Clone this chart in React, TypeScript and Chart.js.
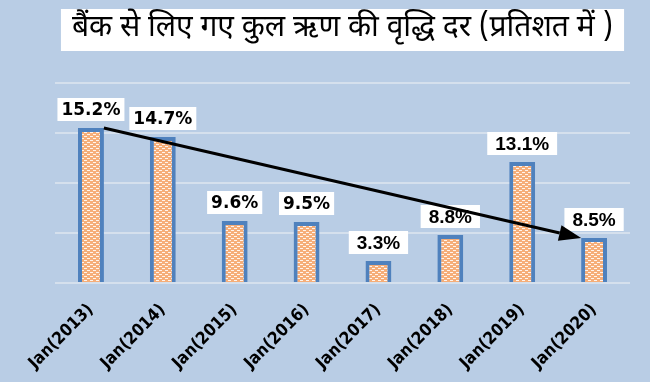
import React, { useEffect, useRef } from "react";
import { Chart, registerables } from "chart.js";

Chart.register(...registerables);

const titleText = "बैंक से लिए गए कुल ऋण की वृद्धि दर (प्रतिशत में )";
const categories = [
  "Jan(2013)", "Jan(2014)", "Jan(2015)", "Jan(2016)",
  "Jan(2017)", "Jan(2018)", "Jan(2019)", "Jan(2020)",
];
// bar heights as read against the gridlines (axis 0..20, gridline every 5)
const barHeights = [15.5, 14.6, 6.2, 6.1, 2.2, 4.8, 12.1, 4.5];
// value labels as printed on the chart
const valueLabels = ["15.2%", "14.7%", "9.6%", "9.5%", "3.3%", "8.8%", "13.1%", "8.5%"];
const yMin = 0;
const yMax = 20;
const yStep = 5;

const BG = "#b9cde5";
const TITLE_FONT = '"Noto Sans Devanagari", "Lohit Devanagari", "FreeSans", "Noto Sans", sans-serif';

function makePattern(): CanvasPattern | string {
  const c = document.createElement("canvas");
  c.width = 6;
  c.height = 4;
  const g = c.getContext("2d");
  if (!g) return "#f7b27e";
  g.fillStyle = "#f6ae79";
  g.fillRect(0, 0, 6, 4);
  g.fillStyle = "#fff4ec";
  g.fillRect(0, 0, 3, 1);
  g.fillRect(3, 2, 3, 1);
  const p = g.createPattern(c, "repeat");
  return p || "#f7b27e";
}

const decorPlugin = {
  id: "decor",
  beforeDraw(chart: any) {
    const { ctx, chartArea } = chart;
    ctx.save();
    ctx.fillStyle = BG;
    ctx.fillRect(0, 0, chart.width, chart.height);
    // white box behind title
    ctx.font = `30px ${TITLE_FONT}`;
    const tw = ctx.measureText(titleText).width;
    const cx = (chartArea.left + chartArea.right) / 2;
    const bw = tw + 22;
    ctx.fillStyle = "#ffffff";
    ctx.fillRect(cx - bw / 2, 9, bw, 42);
    ctx.restore();
  },
  afterDatasetsDraw(chart: any) {
    const { ctx } = chart;
    const meta = chart.getDatasetMeta(0);
    const els = meta.data;
    ctx.save();
    els.forEach((el: any, i: number) => {
      const txt = valueLabels[i];
      const font = i < 4 ? 'bold 17px "DejaVu Sans"' : 'bold 19px "Liberation Sans"';
      ctx.font = font;
      const w = ctx.measureText(txt).width;
      const pad = i < 4 ? 4 : 8;
      const bh = 23;
      const bw = w + pad * 2;
      const bottom = el.y - 7;
      ctx.fillStyle = "#ffffff";
      ctx.fillRect(el.x - bw / 2, bottom - bh, bw, bh);
      ctx.fillStyle = "#000000";
      ctx.textAlign = "center";
      ctx.textBaseline = "middle";
      ctx.fillText(txt, el.x, bottom - bh / 2 + 1);
    });
    // trend arrow from first bar to last bar
    const a = els[0];
    const b = els[els.length - 1];
    const x1 = a.x + a.width / 2;
    const y1 = a.y;
    const x2 = b.x - b.width / 2;
    const y2 = b.y;
    const ang = Math.atan2(y2 - y1, x2 - x1);
    const headLen = 22;
    const headHalf = 8;
    const bx = x2 - headLen * Math.cos(ang);
    const by = y2 - headLen * Math.sin(ang);
    ctx.strokeStyle = "#000000";
    ctx.lineWidth = 3;
    ctx.beginPath();
    ctx.moveTo(x1, y1);
    ctx.lineTo(bx, by);
    ctx.stroke();
    ctx.fillStyle = "#000000";
    ctx.beginPath();
    ctx.moveTo(x2, y2);
    ctx.lineTo(bx + headHalf * Math.sin(ang), by - headHalf * Math.cos(ang));
    ctx.lineTo(bx - headHalf * Math.sin(ang), by + headHalf * Math.cos(ang));
    ctx.closePath();
    ctx.fill();
    ctx.restore();
  },
};

export default function App() {
  const ref = useRef<HTMLCanvasElement | null>(null);
  useEffect(() => {
    if (!ref.current) return;
    const chart = new Chart(ref.current, {
      type: "bar",
      data: {
        labels: categories,
        datasets: [
          {
            data: barHeights,
            backgroundColor: makePattern() as any,
            borderColor: "#4f81bd",
            borderWidth: 4,
            categoryPercentage: 1,
            barPercentage: 0.36,
          },
        ],
      },
      options: {
        responsive: false,
        animation: false,
        layout: { padding: { left: 55, right: 20, top: 0, bottom: 0 } },
        plugins: {
          legend: { display: false },
          tooltip: { enabled: false },
          title: {
            display: true,
            text: titleText,
            fullSize: false,
            color: "#000000",
            font: { family: TITLE_FONT, size: 30, weight: "normal" as any, lineHeight: 1.2 },
            padding: { top: 12, bottom: 35 },
          },
        },
        scales: {
          x: {
            grid: { display: false, drawTicks: false },
            border: { display: false },
            ticks: {
              color: "#000000",
              font: { family: '"DejaVu Sans Condensed", "DejaVu Sans"', size: 17, weight: "bold" as any },
              minRotation: 45,
              maxRotation: 45,
              padding: 17,
            },
            afterFit: (s: any) => {
              s.height = 99;
            },
          },
          y: {
            min: yMin,
            max: yMax,
            ticks: { display: false, stepSize: yStep },
            border: { display: false },
            grid: { color: "#d5e0ed", lineWidth: 2, drawTicks: false },
            afterFit: (s: any) => {
              s.width = 0;
            },
          },
        },
      },
      plugins: [decorPlugin],
    });
    return () => chart.destroy();
  }, []);
  return (
    <div style={{ position: "fixed", left: 0, top: 0, width: 650, height: 382, background: BG }}>
      <canvas ref={ref} width={650} height={382} />
    </div>
  );
}
